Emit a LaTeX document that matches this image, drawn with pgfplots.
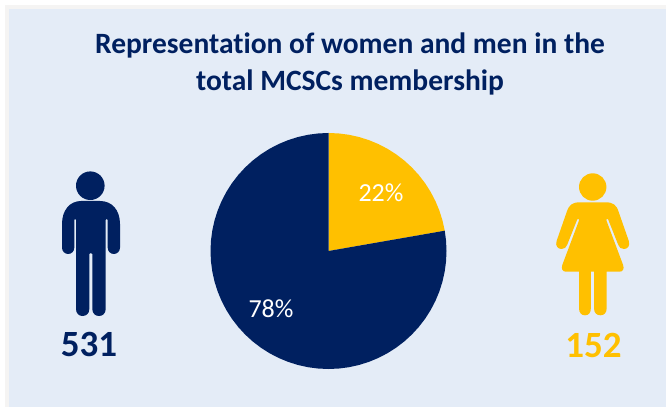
\documentclass[border=0pt]{standalone}
\usepackage{pgfplots}
\pgfplotsset{compat=1.18}
\usepackage{fontspec}
\setmainfont{Carlito}
\definecolor{navy}{HTML}{002060}
\definecolor{gold}{HTML}{FFC000}
\definecolor{panel}{HTML}{E4ECF7}
\definecolor{edge}{HTML}{F5F4F3}
\begin{document}
\begin{tikzpicture}[x=1pt,y=1pt]
\useasboundingbox (0,0) rectangle (666,407);
\fill[white] (0,0) rectangle (666,407);
\fill[edge] (5,0) rectangle (666,402);
\fill[panel] (9,0) rectangle (666,398);
\begin{axis}[at={(328.5pt,156pt)},anchor=center,width=236pt,height=236pt,scale only axis,
  xmin=-1,xmax=1,ymin=-1,ymax=1,hide axis,clip=false]
\addplot[fill=gold,draw=none,data cs=polar] coordinates {(0,0) (90,1) (85,1) (80,1) (75,1) (70,1) (65,1) (60,1) (55,1) (50,1) (45,1) (40,1) (35,1) (30,1) (25,1) (20,1) (15,1) (9.9,1)} -- cycle;
\addplot[fill=navy,draw=none,data cs=polar] coordinates {(0,0) (9.9,1) (5,1) (0,1) (-5,1) (-10,1) (-15,1) (-20,1) (-25,1) (-30,1) (-35,1) (-40,1) (-45,1) (-50,1) (-55,1) (-60,1) (-65,1) (-70,1) (-75,1) (-80,1) (-85,1) (-90,1) (-95,1) (-100,1) (-105,1) (-110,1) (-115,1) (-120,1) (-125,1) (-130,1) (-135,1) (-140,1) (-145,1) (-150,1) (-155,1) (-160,1) (-165,1) (-170,1) (-175,1) (-180,1) (-185,1) (-190,1) (-195,1) (-200,1) (-205,1) (-210,1) (-215,1) (-220,1) (-225,1) (-230,1) (-235,1) (-240,1) (-245,1) (-250,1) (-255,1) (-260,1) (-265,1) (-270,1)} -- cycle;
\end{axis}
\begin{scope}[shift={(0pt,407pt)},x=1pt,y=-1pt]
\node[text=navy,font=\fontsize{29.5}{37}\selectfont\bfseries,align=center] at (350,63.5) {Representat\kern0pt ion of women and men in the\\total MCSCs membership};
\node[text=white,font=\fontsize{26}{26}\selectfont] at (381,193) {22\%};
\node[text=white,font=\fontsize{26}{26}\selectfont] at (271,309) {78\%};
\node[text=navy,font=\fontsize{37}{37}\selectfont\bfseries] at (89,344) {531};
\node[text=gold,font=\fontsize{37}{37}\selectfont\bfseries] at (593.5,345) {152};
% man
\fill[navy] (90.3,185.7) circle[radius=14.3];
\fill[navy] (62,224) -- (62,247.5) .. controls (62,251.5) and (65,254) .. (68.2,254)
  .. controls (71.4,254) and (74.3,251.5) .. (74.3,247.5) -- (74.3,220) .. controls (74.3,218.5) and (76,218.5) .. (76,220)
  -- (76,309) .. controls (76,313.5) and (79,316) .. (82.6,316) .. controls (86.2,316) and (89.3,313.5) .. (89.3,309)
  -- (89.3,254) .. controls (89.3,252.6) and (92.3,252.6) .. (92.3,254)
  -- (92.3,309) .. controls (92.3,313.5) and (95.4,316) .. (99,316) .. controls (102.6,316) and (105.7,313.5) .. (105.7,309)
  -- (105.7,220) .. controls (105.7,218.5) and (107.7,218.5) .. (107.7,220) -- (107.7,247.5)
  .. controls (107.7,251.5) and (110.6,254) .. (113.8,254) .. controls (117,254) and (120,251.5) .. (120,247.5)
  -- (120,224) .. controls (120,210) and (112,201) .. (100,201) -- (81,201) .. controls (70,201) and (62,210) .. (62,224) -- cycle;
% woman
\fill[gold] (592.7,187) circle[radius=13.7];
\fill[gold] (580,202.3) .. controls (572,202.3) and (569,205) .. (566.7,212)
  -- (556.6,241) .. controls (555,246) and (558,249) .. (561.5,249) .. controls (564.5,249) and (566.3,247.5) .. (567.3,244.5)
  -- (577.2,219.5) .. controls (577.8,218) and (579.8,218.5) .. (579,220.5)
  -- (562.3,265) .. controls (561,269) and (562.5,271.7) .. (566,271.7) -- (579,271.7)
  -- (579,308) .. controls (579,313) and (581.5,315.3) .. (585,315.3) .. controls (588.5,315.3) and (590.9,313) .. (590.9,308)
  -- (590.9,271.7) -- (594,271.7)
  -- (594,308) .. controls (594,313) and (596.7,315.3) .. (600.3,315.3) .. controls (604,315.3) and (606.7,313) .. (606.7,308)
  -- (606.7,271.7) -- (619.5,271.7) .. controls (623,271.7) and (624.4,269) .. (623.1,265)
  -- (606.4,220.5) .. controls (605.6,218.5) and (607.6,218) .. (608.2,219.5)
  -- (618.1,244.5) .. controls (619.1,247.5) and (620.9,249) .. (623.9,249) .. controls (627.4,249) and (630.4,246) .. (628.8,241)
  -- (618.7,212) .. controls (616.4,205) and (613.4,202.3) .. (605.4,202.3) -- cycle;
\end{scope}
\end{tikzpicture}
\end{document}
